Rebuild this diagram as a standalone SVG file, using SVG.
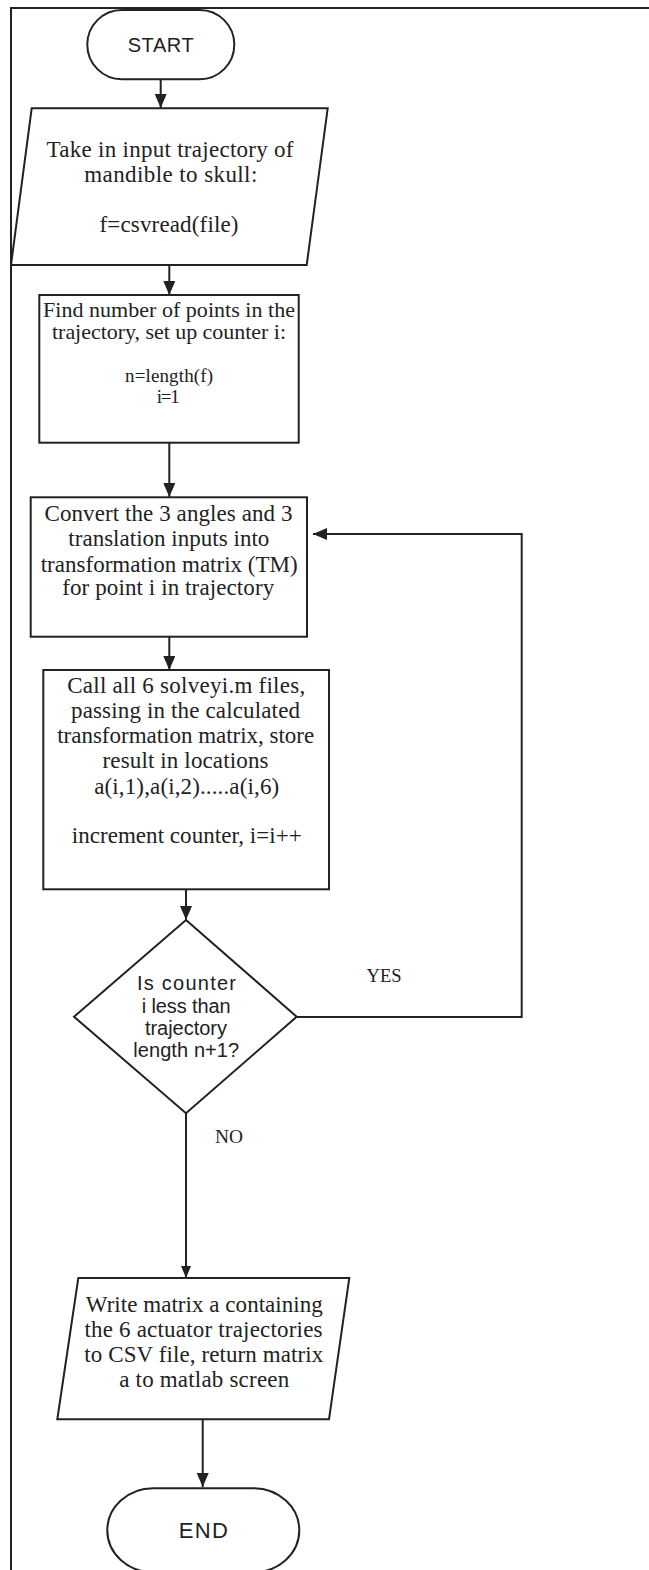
<svg xmlns="http://www.w3.org/2000/svg" width="649" height="1570" viewBox="0 0 649 1570">
<style>
.shape{fill:#fff;stroke:#222;stroke-width:2}
.line{fill:none;stroke:#222;stroke-width:2}
.serif{font-family:"Liberation Serif","Times New Roman",serif;fill:#222;text-anchor:middle}
.sans{font-family:"Liberation Sans",Arial,sans-serif;fill:#222;text-anchor:middle}
.s23{font-size:23px}
.s22{font-size:22px}
.s19{font-size:19px}
.s18{font-size:18px}
</style>
<defs>
<marker id="ah" markerUnits="userSpaceOnUse" markerWidth="14" markerHeight="12" refX="14" refY="6" orient="auto">
<path d="M0,0 L14,6 L0,12 z" fill="#222"/>
</marker>
<marker id="ahs" markerUnits="userSpaceOnUse" markerWidth="12" markerHeight="10" refX="12" refY="5" orient="auto">
<path d="M0,0 L12,5 L0,10 z" fill="#222"/>
</marker>
</defs>
<rect x="0" y="0" width="649" height="1570" fill="#fff"/>
<g id="frame">
<path class="line" d="M11,1570 L11,8 L649,8" stroke-width="2.5"/>
</g>
<g id="connectors">
<line class="line" x1="160.7" y1="79" x2="160.7" y2="108"  marker-end="url(#ah)"/>
<line class="line" x1="169.3" y1="265" x2="169.3" y2="295" marker-end="url(#ah)"/>
<line class="line" x1="169.3" y1="443" x2="169.3" y2="497" marker-end="url(#ah)"/>
<line class="line" x1="169.3" y1="637" x2="169.3" y2="670" marker-end="url(#ah)"/>
<line class="line" x1="186" y1="889" x2="186" y2="920" marker-end="url(#ah)"/>
<polyline class="line" points="297,1017 521.7,1017 521.7,534 313,534" marker-end="url(#ah)"/>
<line class="line" x1="186" y1="1113" x2="186" y2="1278" stroke-width="3" marker-end="url(#ahs)"/>
<line class="line" x1="202.7" y1="1419" x2="202.7" y2="1487" marker-end="url(#ah)"/>
<text class="serif s18" x="384" y="982" textLength="35" lengthAdjust="spacingAndGlyphs">YES</text>
<text class="serif s18" x="229" y="1143" textLength="28" lengthAdjust="spacingAndGlyphs">NO</text>
</g>
<g id="start">
<rect class="shape" x="87.3" y="10" width="147" height="69.3" rx="34.6"/>
<text class="sans" font-size="20" x="160.7" y="52" textLength="66">START</text>
</g>
<g id="input">
<polygon class="shape" points="31.7,108.3 327.7,108.3 306.7,265 11,265"/>
<text class="serif s23" x="170" y="157" textLength="247">Take in input trajectory of</text>
<text class="serif s23" x="170.8" y="182" textLength="173">mandible to skull:</text>
<text class="serif s23" x="169" y="232" textLength="139">f=csvread(file)</text>
</g>
<g id="setup">
<rect class="shape" x="39.3" y="295" width="259.4" height="147.7"/>
<text class="serif s22" x="169" y="316.7" textLength="252">Find number of points in the</text>
<text class="serif s22" x="169" y="339.3" textLength="234">trajectory, set up counter i:</text>
<text class="serif s19" x="169" y="381.7" textLength="88">n=length(f)</text>
<text class="serif s19" x="168.3" y="402.7" textLength="23">i=1</text>
</g>
<g id="convert">
<rect class="shape" x="30.7" y="497.3" width="276.3" height="139.4"/>
<text class="serif s23" x="168.5" y="520.7" textLength="248">Convert the 3 angles and 3</text>
<text class="serif s23" x="168.8" y="545.7" textLength="201">translation inputs into</text>
<text class="serif s23" x="169.2" y="571.7" textLength="257">transformation matrix (TM)</text>
<text class="serif s23" x="168.2" y="595" textLength="212">for point i in trajectory</text>
</g>
<g id="solve">
<rect class="shape" x="43.3" y="670" width="285.7" height="219.3"/>
<text class="serif s23" x="186.2" y="693.3" textLength="238">Call all 6 solveyi.m files,</text>
<text class="serif s23" x="185.5" y="718.3" textLength="229">passing in the calculated</text>
<text class="serif s23" x="185.7" y="743.3" textLength="257">transformation matrix, store</text>
<text class="serif s23" x="185.5" y="768.3" textLength="166">result in locations</text>
<text class="serif s23" x="186.7" y="794" textLength="185">a(i,1),a(i,2).....a(i,6)</text>
<text class="serif s23" x="186.7" y="843.3" textLength="230">increment counter, i=i++</text>
</g>
<g id="decision">
<polygon class="shape" points="186,920 296.7,1016.7 186,1113.3 74,1016.7"/>
<text class="sans" font-size="20" x="186.5" y="990" textLength="99">Is counter</text>
<text class="sans" font-size="20" x="186.2" y="1013.3" textLength="89">i less than</text>
<text class="sans" font-size="20" x="185.9" y="1035" textLength="82">trajectory</text>
<text class="sans" font-size="20" x="186.2" y="1057.3" textLength="106">length n+1?</text>
</g>
<g id="output">
<polygon class="shape" points="78.3,1278 349.3,1278 329,1419.3 57.3,1419.3"/>
<text class="serif s23" x="204.3" y="1311.7" textLength="237">Write matrix a containing</text>
<text class="serif s23" x="203.5" y="1336.7" textLength="238">the 6 actuator trajectories</text>
<text class="serif s23" x="203.8" y="1361.7" textLength="239">to CSV file, return matrix</text>
<text class="serif s23" x="204.2" y="1386.7" textLength="170">a to matlab screen</text>
</g>
<g id="end">
<rect class="shape" x="107.3" y="1488.3" width="192" height="84" rx="46" ry="42"/>
<text class="sans" font-size="22" x="203.3" y="1538.3" textLength="49">END</text>
</g>
</svg>
